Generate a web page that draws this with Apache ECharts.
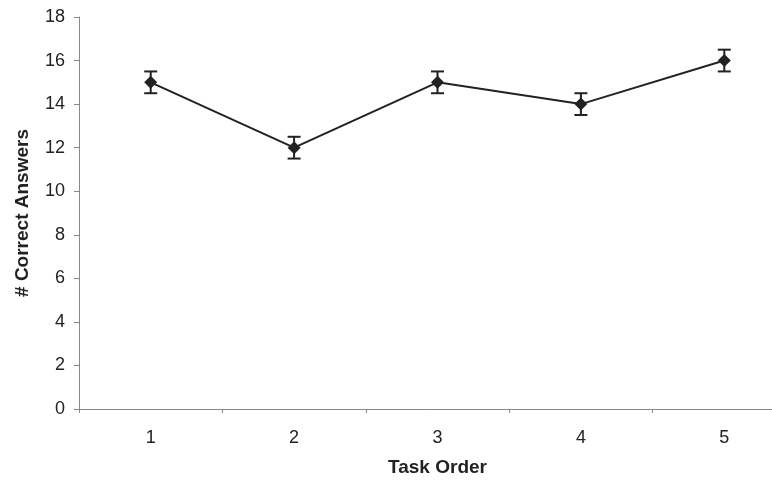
<!DOCTYPE html>
<html><head><meta charset="utf-8">
<script src="https://cdn.jsdelivr.net/npm/echarts@6/dist/echarts.min.js"></script>
<style>html,body{margin:0;padding:0;background:#fff}#c{width:772px;height:482px}</style>
</head><body><div id="c"></div>
<script>
var categories = ['1', '2', '3', '4', '5'];
var means = [15, 12, 15, 14, 16];
var errors = [0.5, 0.5, 0.5, 0.5, 0.5];
var yTicks = [0, 2, 4, 6, 8, 10, 12, 14, 16, 18];

var chart = echarts.init(document.getElementById('c'));
var errData = means.map(function (m, i) { return [i, m - errors[i], m + errors[i]]; });
var font = "'Liberation Sans', Arial, sans-serif";
chart.setOption({
  animation: false,
  backgroundColor: '#fff',
  grid: { left: 79, top: 17, width: 717, height: 392, containLabel: false, outerBoundsMode: 'none' },
  xAxis: {
    type: 'category', data: categories, boundaryGap: true,
    name: 'Task Order', nameLocation: 'middle', nameGap: 49,
    nameTextStyle: { fontFamily: font, fontSize: 19, fontWeight: 'bold', color: '#222' },
    axisLine: { lineStyle: { color: '#888', width: 1 } },
    axisTick: { show: true, length: 4, alignWithLabel: false, lineStyle: { color: '#888' } },
    axisLabel: { fontFamily: font, fontSize: 18, color: '#222', margin: 20 },
    splitLine: { show: false }
  },
  yAxis: {
    type: 'value', min: yTicks[0], max: yTicks[yTicks.length - 1], interval: 2,
    name: '# Correct Answers', nameLocation: 'middle', nameGap: 47, nameRotate: 90,
    nameTextStyle: { fontFamily: font, fontSize: 19, fontWeight: 'bold', color: '#222' },
    axisLine: { show: true, lineStyle: { color: '#888', width: 1 } },
    axisTick: { show: true, length: 5, lineStyle: { color: '#888' } },
    axisLabel: { fontFamily: font, fontSize: 18, color: '#222', margin: 14 },
    splitLine: { show: false }
  },
  series: [
    {
      type: 'line', data: means, symbol: 'diamond', symbolSize: 13,
      lineStyle: { color: '#222', width: 2 },
      itemStyle: { color: '#222' }, z: 3
    },
    {
      type: 'custom', data: errData, z: 2,
      renderItem: function (params, api) {
        var x = api.coord([api.value(0), api.value(1)])[0];
        var lo = api.coord([api.value(0), api.value(1)])[1];
        var hi = api.coord([api.value(0), api.value(2)])[1];
        var hw = 6.5;
        var st = { stroke: '#222', lineWidth: 2 };
        return {
          type: 'group', children: [
            { type: 'line', shape: { x1: x, y1: lo, x2: x, y2: hi }, style: st },
            { type: 'line', shape: { x1: x - hw, y1: lo, x2: x + hw, y2: lo }, style: st },
            { type: 'line', shape: { x1: x - hw, y1: hi, x2: x + hw, y2: hi }, style: st }
          ]
        };
      }
    }
  ]
});
</script></body></html>
